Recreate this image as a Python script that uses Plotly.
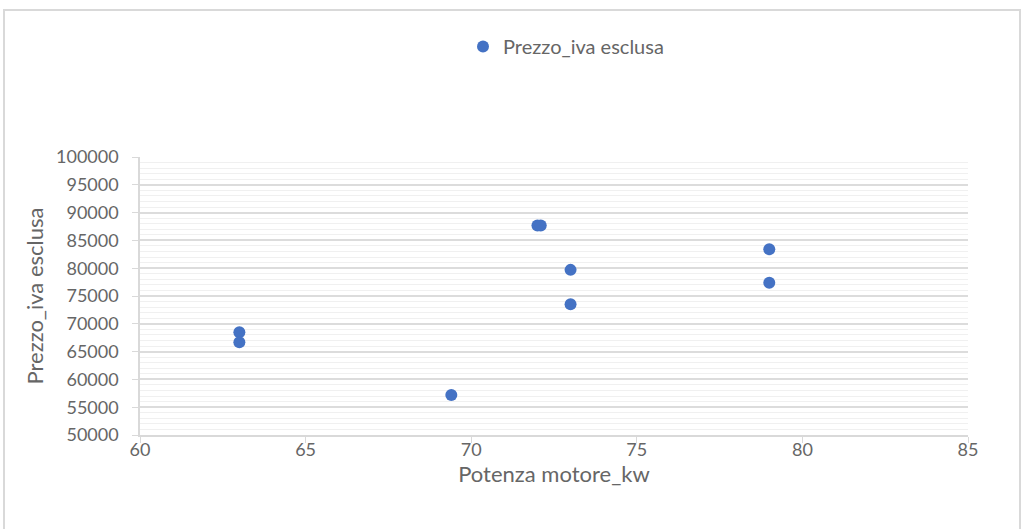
import plotly.graph_objects as go

# Data
potenza_kw = [63, 63, 69.4, 72.0, 72.1, 73, 73, 79, 79]
prezzo_iva_esclusa = [68500, 66700, 57200, 87700, 87700, 79700, 73500, 83400, 77400]
series_name = "Prezzo_iva esclusa"
x_title = "Potenza motore_kw"
y_title = "Prezzo_iva esclusa"

W, H = 1023, 529
ML, MR, MT, MB = 140, 55, 157, 94
pw, ph = W - ML - MR, H - MT - MB

FONT = "Lato"
GRAY = "#666666"

fig = go.Figure()
fig.add_trace(go.Scatter(
    x=potenza_kw, y=prezzo_iva_esclusa, mode="markers", name=series_name,
    marker=dict(color="#4472C4", size=12, line=dict(width=0)),
))

def px_x(p):
    return (p - ML) / pw

def px_y(p):
    return (H - MB - p) / ph

fig.update_layout(
    width=W, height=H,
    margin=dict(l=ML, r=MR, t=MT, b=MB),
    paper_bgcolor="white", plot_bgcolor="white",
    font=dict(family=FONT, color=GRAY, size=18),
    showlegend=True,
    legend=dict(orientation="h", x=px_x(463), y=px_y(27), xanchor="left", yanchor="top",
                font=dict(size=20, color=GRAY), bgcolor="rgba(0,0,0,0)", itemsizing="constant"),
    xaxis=dict(range=[60, 85], dtick=5, tick0=60, showgrid=False, zeroline=False,
               showline=True, linecolor="#d9d9d9", linewidth=1.5,
               ticks="outside", ticklen=6, tickcolor="#d9d9d9",
               ticklabelstandoff=-8,
               tickfont=dict(size=18, color=GRAY),
               title=dict(text=x_title, font=dict(size=22, color=GRAY), standoff=1)),
    yaxis=dict(range=[50000, 100000], dtick=5000, tick0=50000, tickformat="d",
               showgrid=True, gridcolor="#dcdcdc", gridwidth=1.5, zeroline=False,
               showline=True, linecolor="#d9d9d9", linewidth=1.5,
               ticks="outside", ticklen=6, tickcolor="#d9d9d9",
               ticklabelstandoff=10,
               tickfont=dict(size=18, color=GRAY),
               minor=dict(dtick=1000, showgrid=True, gridcolor="#f0f0f0", gridwidth=1),
               title=dict(text=y_title, font=dict(size=22, color=GRAY), standoff=6)),
)

# outer chart-area border
fig.add_shape(type="rect", xref="paper", yref="paper",
              x0=px_x(4), x1=px_x(1020), y0=px_y(532), y1=px_y(10),
              line=dict(color="#d9d9d9", width=2), fillcolor="rgba(0,0,0,0)", layer="below")

fig.write_html("out.html", config={"displayModeBar": False},
               post_script="document.body.style.margin='0';")
